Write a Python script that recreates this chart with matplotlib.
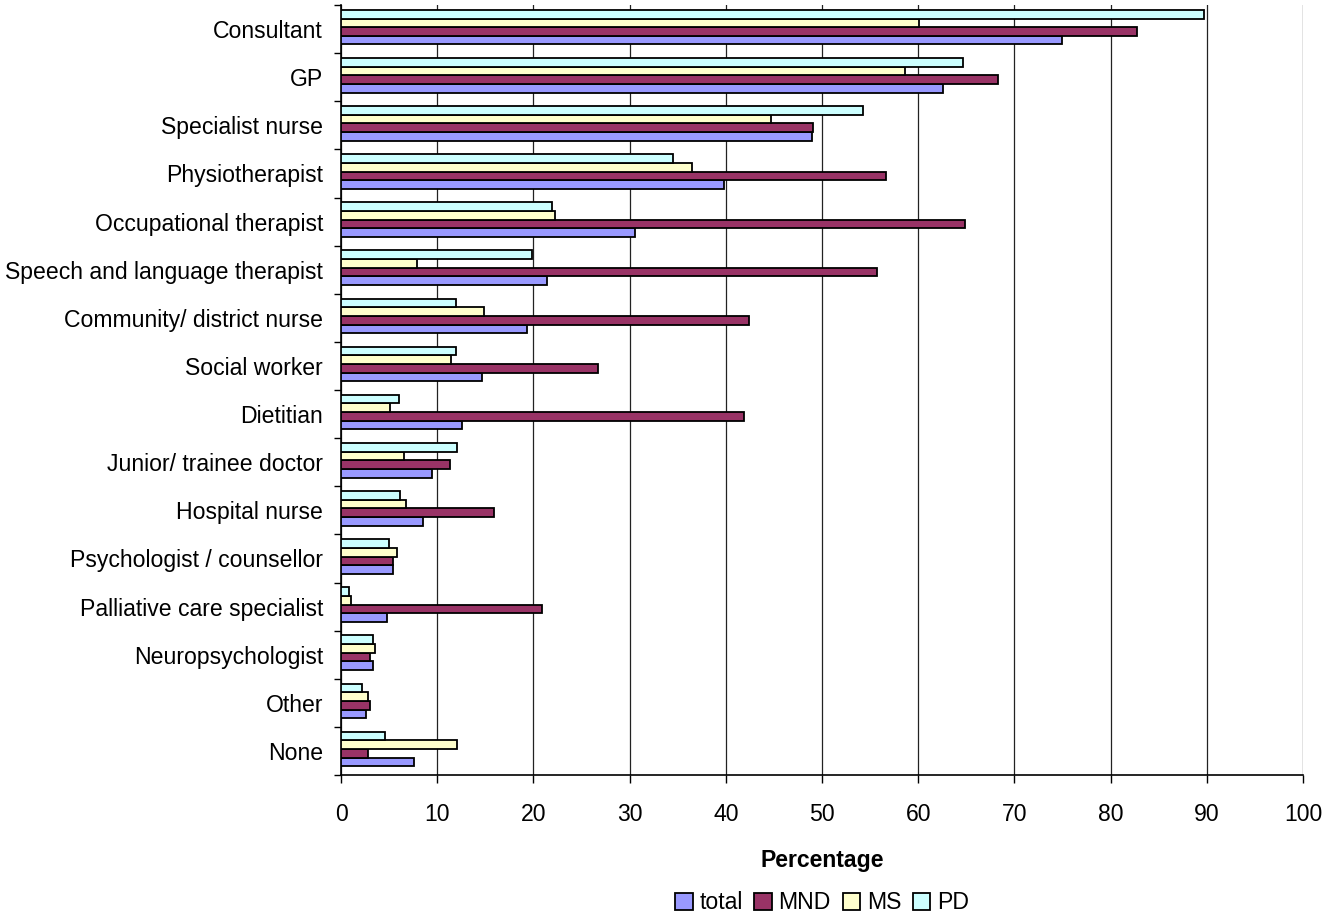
import numpy as np
import matplotlib
matplotlib.use("Agg")
import matplotlib.pyplot as plt

plt.rcParams["font.family"] = ["Liberation Sans", "DejaVu Sans"]

categories = [
    "Consultant", "GP", "Specialist nurse", "Physiotherapist",
    "Occupational therapist", "Speech and language therapist",
    "Community/ district nurse", "Social worker", "Dietitian",
    "Junior/ trainee doctor", "Hospital nurse", "Psychologist / counsellor",
    "Palliative care specialist", "Neuropsychologist", "Other", "None",
]

total = [74.9, 62.6, 49.0, 39.8, 30.6, 21.4, 19.3, 14.6, 12.6, 9.5, 8.5, 5.4, 4.8, 3.3, 2.6, 7.6]
mnd = [82.7, 68.3, 49.1, 56.6, 64.9, 55.7, 42.4, 26.7, 41.9, 11.3, 15.9, 5.4, 20.9, 3.0, 3.0, 2.8]
ms = [60.1, 58.6, 44.7, 36.5, 22.2, 7.9, 14.9, 11.4, 5.1, 6.5, 6.8, 5.8, 1.0, 3.5, 2.8, 12.1]
pd_ = [89.7, 64.6, 54.3, 34.5, 21.9, 19.9, 12.0, 12.0, 6.0, 12.1, 6.1, 5.0, 0.8, 3.3, 2.2, 4.6]

series = [("total", total, "#9999FF"),
          ("MND", mnd, "#993366"),
          ("MS", ms, "#FFFFCC"),
          ("PD", pd_, "#CCFFFF")]

FS = 16.6

fig = plt.figure(figsize=(13.26, 9.15), dpi=100)
ax = fig.add_axes([0.2572, 0.153, 0.7255, 0.8415])

y = np.arange(len(categories))
h = 0.18
offsets = [1.5 * h, 0.5 * h, -0.5 * h, -1.5 * h]

for (name, vals, color), off in zip(series, offsets):
    ax.barh(y + off - 0.04, vals, height=h, color=color, edgecolor="black",
            linewidth=1.3, label=name, zorder=3)

ax.set_ylim(len(categories) - 0.5, -0.5)
ax.set_xlim(0, 100)
ax.set_xticks(np.arange(0, 101, 10))
ax.set_yticks(y)
ax.set_yticklabels(categories)
ax.set_yticks(np.arange(-0.5, len(categories), 1), minor=True)
ax.tick_params(axis="y", which="major", length=0, pad=13, labelsize=FS)
ax.tick_params(axis="y", which="minor", length=5, width=1, direction="out")
ax.tick_params(axis="x", length=6, width=1, labelsize=FS, pad=14)

ax.grid(axis="x", color="#222222", linewidth=0.9, zorder=0)
ax.set_axisbelow(True)
for s in ["top", "right"]:
    ax.spines[s].set_visible(False)
ax.spines["left"].set_linewidth(1.2)
ax.spines["bottom"].set_linewidth(1.2)

ax.set_xlabel("Percentage", fontsize=FS, fontweight="bold", labelpad=17)

ax.legend(loc="center", bbox_to_anchor=(0.5, -0.166), ncol=4, frameon=False,
          fontsize=FS, handlelength=0.75, handleheight=0.75, handletextpad=0.3,
          columnspacing=0.5, borderpad=0)

fig.savefig("out.png", dpi=100)
